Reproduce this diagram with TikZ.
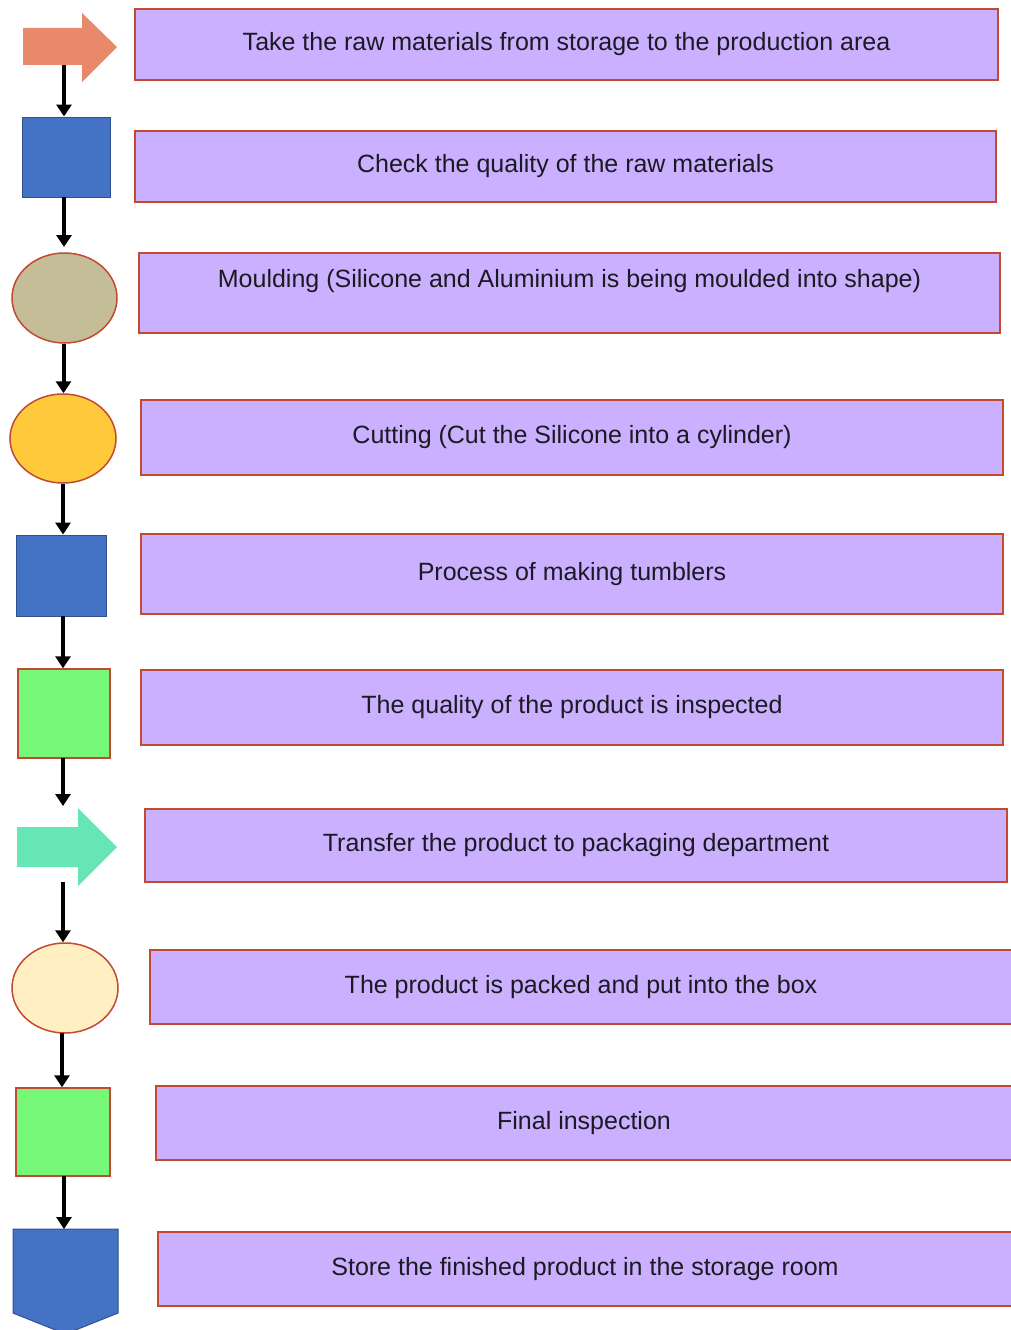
\documentclass[tikz,border=0pt]{standalone}
\usepackage{fontspec}
\setmainfont{Liberation Sans}
\usetikzlibrary{arrows.meta,shapes.geometric}
\definecolor{boxfill}{HTML}{CBB0FF}
\definecolor{boxline}{HTML}{C24A30}
\definecolor{bluefill}{HTML}{4472C4}
\definecolor{blueline}{HTML}{2F528F}
\definecolor{orangearrow}{HTML}{E8896A}
\definecolor{khaki}{HTML}{C4BD97}
\definecolor{yellowfill}{HTML}{FFC93C}
\definecolor{greenfill}{HTML}{77F777}
\definecolor{tealarrow}{HTML}{66E6B4}
\definecolor{creamfill}{HTML}{FFEFC2}
\definecolor{textcol}{HTML}{1A1A22}
\begin{document}
\begin{tikzpicture}[x=1pt,y=-1pt,
  tbox/.style={draw=boxline, line width=2pt, fill=boxfill, rectangle, inner sep=0pt,
    font=\fontsize{25}{28}\selectfont, text=textcol},
  bluebox/.style={draw=blueline, line width=1pt, fill=bluefill, rectangle, inner sep=0pt},
  greenbox/.style={draw=boxline, line width=1.5pt, fill=greenfill, rectangle, inner sep=0pt},
  oval/.style={ellipse, draw=boxline, line width=1.5pt, inner sep=0pt},
  conn/.style={line width=4pt, -{Triangle[width=15pt,length=12pt]}}]
\useasboundingbox (0,0) rectangle (1010,1330);

% text boxes
\node[tbox, minimum width=863pt, minimum height=71pt] (b1) at (566.5,44.5) {\raisebox{-2pt}{Take the raw materials from storage to the production area}};
\node[tbox, minimum width=861pt, minimum height=71pt] (b2) at (565.5,166.5) {\raisebox{-2pt}{Check the quality of the raw materials}};
\node[tbox, minimum width=861pt, minimum height=80pt] (b3) at (569.5,293) {\raisebox{6pt}[0pt][0pt]{Moulding (Silicone and Aluminium is being moulded into shape)}};
\node[tbox, minimum width=862pt, minimum height=75pt] (b4) at (572,437.5) {\raisebox{-2pt}{Cutting (Cut the Silicone into a cylinder)}};
\node[tbox, minimum width=862pt, minimum height=80pt] (b5) at (572,574) {\raisebox{-2pt}{Process of making tumblers}};
\node[tbox, minimum width=862pt, minimum height=75pt] (b6) at (572,707.5) {\raisebox{-2pt}{The quality of the product is inspected}};
\node[tbox, minimum width=862pt, minimum height=73pt] (b7) at (576,845.5) {\raisebox{-2pt}{Transfer the product to packaging department}};
\node[tbox, minimum width=862pt, minimum height=74pt] (b8) at (581,987) {\raisebox{-2pt}{The product is packed and put into the box}};
\node[tbox, minimum width=856pt, minimum height=74pt] (b9) at (584,1123) {\raisebox{-2pt}{Final inspection}};
\node[tbox, minimum width=854pt, minimum height=74pt] (b10) at (585,1269) {\raisebox{-2pt}{Store the finished product in the storage room}};

% left symbols
\fill[orangearrow] (23,28)--(82,28)--(82,13)--(117,47)--(82,82)--(82,65)--(23,65)--cycle;
\coordinate (s1out) at (64,65);
\node[bluebox, minimum width=88pt, minimum height=80pt] (s2) at (66,157) {};
\node[oval, fill=khaki, minimum width=105pt, minimum height=90pt] (s3) at (64.5,298) {};
\node[oval, fill=yellowfill, minimum width=106pt, minimum height=89pt] (s4) at (63,438.5) {};
\node[bluebox, minimum width=90pt, minimum height=81pt] (s5) at (61,575.5) {};
\node[greenbox, minimum width=92pt, minimum height=89pt] (s6) at (64,713.5) {};
\fill[tealarrow] (17,827)--(78,827)--(78,808)--(117,847)--(78,886)--(78,867)--(17,867)--cycle;
\coordinate (s7in) at (63,806);
\coordinate (s7out) at (63,882);
\node[oval, fill=creamfill, minimum width=106pt, minimum height=90pt] (s8) at (65,988) {};
\node[greenbox, minimum width=94pt, minimum height=88pt] (s9) at (63,1132) {};
\draw[blueline, line width=1pt, fill=bluefill] (13,1229)--(118,1229)--(118,1313)--(65.5,1334)--(13,1313)--cycle;
\coordinate (s10in) at (64,1229);

% connectors
\draw[conn] (s1out) -- (s1out |- s2.north);
\draw[conn] (64,197) -- (64,247);
\draw[conn] (s3.south) ++(-1,0) coordinate (c3) -- (c3 |- s4.north);
\draw[conn] (s4.south) -- (s4.south |- s5.north);
\draw[conn] (63,616) coordinate (c5) -- (c5 |- s6.north);
\draw[conn] (63,758) coordinate (c6) -- (s7in);
\draw[conn] (s7out) -- (s7out |- s8.north);
\draw[conn] (62,1033) coordinate (c8) -- (c8 |- s9.north);
\draw[conn] (64,1176) coordinate (c9) -- (s10in);
\end{tikzpicture}
\end{document}
